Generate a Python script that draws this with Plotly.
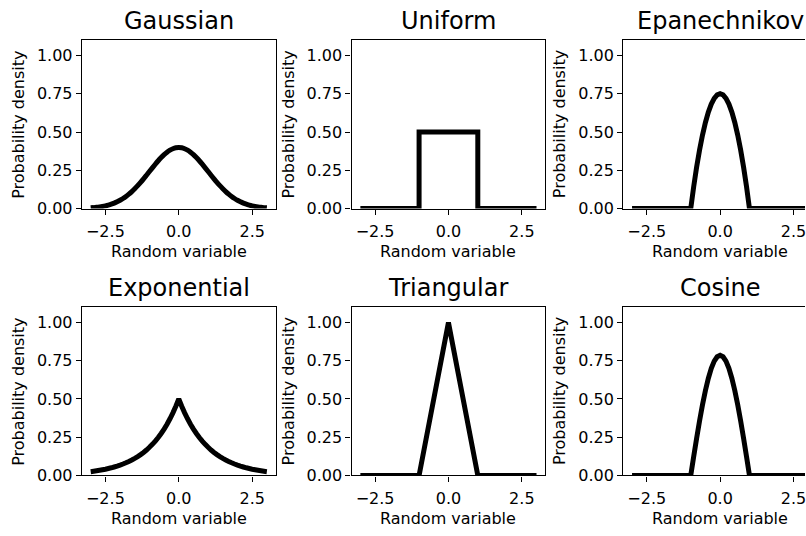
import plotly.graph_objects as go

W, H = 806, 536

TITLES = ["Gaussian", "Uniform", "Epanechnikov", "Exponential", "Triangular", "Cosine"]
X_LABEL = "Random variable"
Y_LABEL = "Probability density"
X_TICKS = [-2.5, 0.0, 2.5]
X_TICK_TEXT = ["\u22122.5", "0.0", "2.5"]
Y_TICKS = [0.0, 0.25, 0.5, 0.75, 1.0]
Y_TICK_TEXT = ["0.00", "0.25", "0.50", "0.75", "1.00"]

# right halves (x = 0.0, 0.1, ..., 3.0); curves are symmetric
HALF_X = [0.0, 0.1, 0.2, 0.3, 0.4, 0.5, 0.6, 0.7, 0.8, 0.9, 1.0, 1.1, 1.2, 1.3, 1.4, 1.5,
          1.6, 1.7, 1.8, 1.9, 2.0, 2.1, 2.2, 2.3, 2.4, 2.5, 2.6, 2.7, 2.8, 2.9, 3.0]
GAUSS_HALF = [0.3989, 0.3970, 0.3910, 0.3814, 0.3683, 0.3521, 0.3332, 0.3123, 0.2897, 0.2661,
              0.2420, 0.2179, 0.1942, 0.1714, 0.1497, 0.1295, 0.1109, 0.0940, 0.0790, 0.0656,
              0.0540, 0.0440, 0.0355, 0.0283, 0.0224, 0.0175, 0.0136, 0.0104, 0.0079, 0.0060,
              0.0044]
EXP_HALF = [0.5000, 0.4524, 0.4094, 0.3704, 0.3352, 0.3033, 0.2744, 0.2483, 0.2247, 0.2033,
            0.1839, 0.1664, 0.1506, 0.1363, 0.1233, 0.1116, 0.1009, 0.0913, 0.0826, 0.0748,
            0.0677, 0.0612, 0.0554, 0.0501, 0.0454, 0.0410, 0.0371, 0.0336, 0.0304, 0.0275,
            0.0249]

COMPACT_HALF_X = [0.0, 0.1, 0.2, 0.3, 0.4, 0.5, 0.6, 0.7, 0.8, 0.9, 1.0, 3.0]
EPAN_HALF = [0.7500, 0.7425, 0.7200, 0.6825, 0.6300, 0.5625, 0.4800, 0.3825, 0.2700, 0.1425,
             0.0, 0.0]
COS_HALF = [0.7854, 0.7757, 0.7470, 0.6998, 0.6354, 0.5554, 0.4617, 0.3566, 0.2427, 0.1229,
            0.0, 0.0]

UNIF_X = [-3.0, -1.0, -1.0, 1.0, 1.0, 3.0]
UNIF_Y = [0.0, 0.0, 0.5, 0.5, 0.0, 0.0]

TRI_X = [-3.0, -1.0, 0.0, 1.0, 3.0]
TRI_Y = [0.0, 0.0, 1.0, 0.0, 0.0]


def mirror_x(half):
    return [-v for v in half[::-1]] + half[1:]


def mirror_y(half):
    return half[::-1] + half[1:]


SERIES = [
    (mirror_x(HALF_X), mirror_y(GAUSS_HALF), "spline"),
    (UNIF_X, UNIF_Y, "linear"),
    (mirror_x(COMPACT_HALF_X), mirror_y(EPAN_HALF), "linear"),
    (mirror_x(HALF_X), mirror_y(EXP_HALF), "linear"),
    (TRI_X, TRI_Y, "linear"),
    (mirror_x(COMPACT_HALF_X), mirror_y(COS_HALF), "linear"),
]

# layout in pixels
COL_LEFT = [82, 352, 624]
AX_W = 194
ROW_TOP = [41, 313]
AX_H = 171.5
XR = (-3.3, 3.3)
YR = (0.0, 1.1)
FONT = "DejaVu Sans"

fig = go.Figure()
annotations = []

for i, (xs, ys, shape) in enumerate(SERIES):
    r, c = divmod(i, 3)
    n = "" if i == 0 else str(i + 1)
    left = COL_LEFT[c]
    right = min(left + AX_W, W)
    top = ROW_TOP[r]
    bottom = top + AX_H
    x_hi = XR[0] + (XR[1] - XR[0]) * (right - left) / AX_W
    fig.add_trace(go.Scatter(x=xs, y=ys, mode="lines", xaxis="x" + n, yaxis="y" + n,
                             line=dict(color="black", width=5, shape=shape, simplify=False),
                             showlegend=False, hoverinfo="skip"))
    fig.layout["xaxis" + n] = dict(
        domain=[left / W, right / W], anchor="y" + n, range=[XR[0], x_hi],
        tickvals=X_TICKS, ticktext=X_TICK_TEXT, ticks="outside", ticklen=5, tickwidth=1.3,
        tickcolor="black", showline=True, linecolor="black", linewidth=1.3, mirror=True,
        showgrid=False, zeroline=False, fixedrange=True, ticklabeloverflow="allow",
        ticklabelstandoff=3,
        tickfont=dict(family=FONT, size=16, color="black"))
    fig.layout["yaxis" + n] = dict(
        domain=[1 - bottom / H, 1 - top / H], anchor="x" + n, range=list(YR),
        tickvals=Y_TICKS, ticktext=Y_TICK_TEXT, ticks="outside", ticklen=5, tickwidth=1.3,
        tickcolor="black", showline=True, linecolor="black", linewidth=1.3,
        mirror=(c != 2), showgrid=False, zeroline=False, fixedrange=True,
        tickfont=dict(family=FONT, size=16, color="black"))
    cx = left + AX_W / 2
    annotations.append(dict(text=TITLES[i], x=cx / W, y=1 - (top - 20) / H, xref="paper",
                            yref="paper", xanchor="center", yanchor="middle", showarrow=False,
                            font=dict(family=FONT, size=24, color="black")))
    annotations.append(dict(text=X_LABEL, x=cx / W, y=1 - (bottom + 44) / H, xref="paper",
                            yref="paper", xanchor="center", yanchor="middle", showarrow=False,
                            font=dict(family=FONT, size=16, color="black")))
    annotations.append(dict(text=Y_LABEL, x=(left - 63.5) / W, y=1 - (top + AX_H / 2) / H,
                            xref="paper", yref="paper", xanchor="center", yanchor="middle",
                            textangle=-90, showarrow=False,
                            font=dict(family=FONT, size=16, color="black")))

fig.update_layout(width=W, height=H, margin=dict(l=0, r=0, t=0, b=0),
                  paper_bgcolor="white", plot_bgcolor="white",
                  annotations=annotations, font=dict(family=FONT))

fig.write_html("out.html")
